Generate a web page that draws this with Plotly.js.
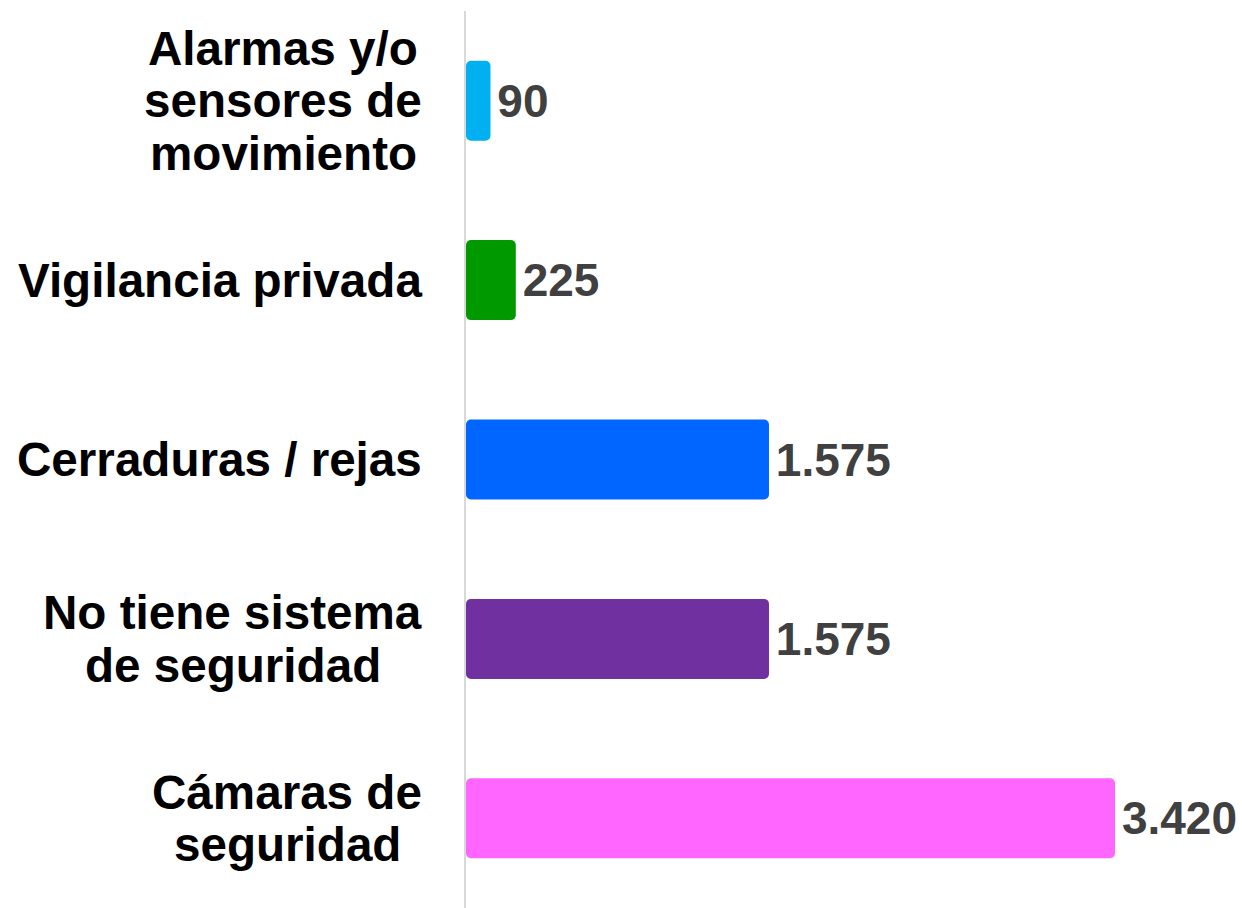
<!DOCTYPE html>
<html>
<head>
<meta charset="utf-8">
<script src="https://cdn.plot.ly/plotly-3.0.1.min.js"></script>
<style>html,body{margin:0;padding:0;background:#fff;}#chart{width:1242px;height:908px;}</style>
</head>
<body>
<div id="chart"></div>
<script>
var categories = ["Alarmas y/o<br>sensores de<br>movimiento", "Vigilancia privada", "Cerraduras / rejas", "No tiene sistema<br>de seguridad", "Cámaras de<br>seguridad"];
var values = [90, 225, 1575, 1575, 3420];
var colors = ["#00B0F0", "#009900", "#0066FF", "#7030A0", "#FF66FF"];

var W = 1242, H = 908;
var ML = 466, MT = 11, MB = 0, MR = 0;
var FS = 47.6, LINE = 52.5, LABEL_RIGHT = 422;
var VFS = 46;
var FONT = "Liberation Sans, Arial, sans-serif";
var AXIS_START = -40.5, AXIS_END = 4097;

var canvas = document.createElement("canvas");
var ctx = canvas.getContext("2d");
ctx.font = "bold " + FS + "px 'Liberation Sans', Arial, sans-serif";

var annotations = [];
categories.forEach(function (cat) {
  var lines = cat.split("<br>");
  var maxW = 0;
  lines.forEach(function (l) { maxW = Math.max(maxW, ctx.measureText(l).width); });
  var centerPx = LABEL_RIGHT - maxW / 2;
  var n = lines.length;
  lines.forEach(function (l, i) {
    annotations.push({
      xref: "paper", yref: "y", x: 0, y: cat,
      xanchor: "center", yanchor: "middle",
      xshift: centerPx - ML,
      yshift: -(i - (n - 1) / 2) * LINE,
      text: l, showarrow: false,
      font: {family: FONT, size: FS, color: "#000000", weight: "bold"}
    });
  });
});

var trace = {
  type: "bar",
  orientation: "h",
  y: categories,
  x: values.map(function (v) { return v - AXIS_START; }),
  base: AXIS_START,
  customdata: values,
  marker: {color: colors, line: {width: 0}},
  texttemplate: "\u200A%{customdata:,}",
  textposition: "outside",
  constraintext: "none",
  cliponaxis: false,
  textfont: {family: FONT, size: VFS, color: "#404040", weight: "bold"},
  hoverinfo: "none"
};

var layout = {
  width: W, height: H,
  margin: {l: ML, r: MR, t: MT, b: MB, pad: 0},
  paper_bgcolor: "#ffffff",
  plot_bgcolor: "#ffffff",
  separators: ",.",
  bargap: 0.554,
  barcornerradius: 5,
  showlegend: false,
  xaxis: {range: [AXIS_START, AXIS_END], visible: false, fixedrange: true},
  yaxis: {
    type: "category",
    categoryorder: "array",
    categoryarray: categories,
    autorange: "reversed",
    showticklabels: false,
    ticks: "",
    showgrid: false,
    zeroline: false,
    showline: true,
    linecolor: "#d9d9d9",
    linewidth: 2
  },
  annotations: annotations
};

Plotly.newPlot("chart", [trace], layout, {displayModeBar: false, staticPlot: true});
</script>
</body>
</html>
